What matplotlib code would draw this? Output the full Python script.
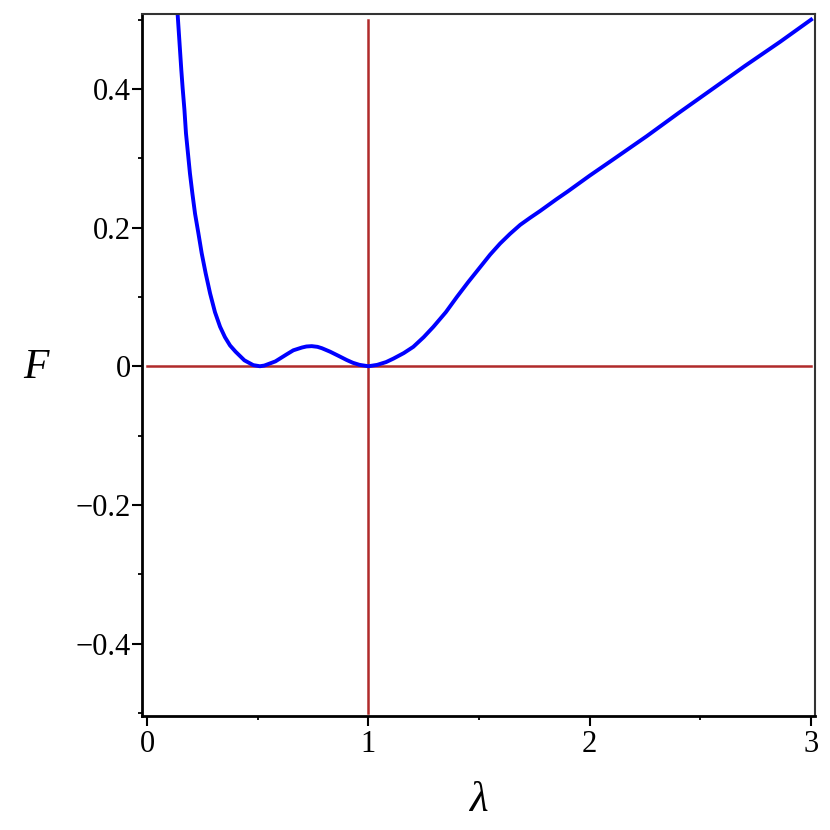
import matplotlib
matplotlib.use("Agg")
import matplotlib.pyplot as plt
from matplotlib.ticker import MultipleLocator, FixedLocator

# curve
lam = [0.137, 0.143, 0.149, 0.155, 0.161, 0.169, 0.176, 0.185, 0.194, 0.205,
       0.217, 0.232, 0.247, 0.265, 0.285, 0.307, 0.330, 0.352, 0.375, 0.400,
       0.440, 0.480, 0.510, 0.530, 0.555, 0.580, 0.600, 0.630, 0.661, 0.700,
       0.720, 0.744, 0.770, 0.790, 0.827, 0.865, 0.902, 0.930, 0.960, 1.000,
       1.040, 1.080, 1.113, 1.160, 1.203, 1.250, 1.294, 1.350, 1.400, 1.450,
       1.505, 1.550, 1.595, 1.640, 1.686, 1.730, 1.776, 1.850, 1.900, 2.000,
       2.100, 2.258, 2.400, 2.559, 2.700, 2.860, 3.000]
F = [0.514, 0.485, 0.456, 0.427, 0.401, 0.370, 0.336, 0.307, 0.278, 0.249,
     0.220, 0.192, 0.163, 0.134, 0.105, 0.078, 0.057, 0.042, 0.030, 0.021,
     0.0085, 0.0016, 0.000, 0.001, 0.004, 0.007, 0.011, 0.017, 0.023, 0.027,
     0.0285, 0.029, 0.028, 0.026, 0.021, 0.015, 0.009, 0.005, 0.002, 0.000,
     0.002, 0.006, 0.011, 0.019, 0.028, 0.042, 0.057, 0.078, 0.100, 0.121,
     0.143, 0.161, 0.177, 0.191, 0.204, 0.214, 0.224, 0.241, 0.252, 0.275,
     0.297, 0.332, 0.365, 0.401, 0.433, 0.468, 0.500]

# reference lines
hline_x = [0, 3]
vline_y = [-0.5, 0.5]

xticks = [0, 1, 2, 3]
yticks = [-0.4, -0.2, 0, 0.2, 0.4]
ytick_labels = ["\u22120.4", "\u22120.2", "0", "0.2", "0.4"]

plt.rcParams['font.family'] = ['Liberation Serif', 'DejaVu Serif']

fig = plt.figure(figsize=(8.3, 8.3), dpi=100)
ax = fig.add_axes([0.171, 0.137, 0.811, 0.846])

red = '#b02a2a'
ax.plot(hline_x, [0, 0], color=red, lw=1.8, zorder=1)
ax.plot([1, 1], vline_y, color=red, lw=1.8, zorder=1)
ax.plot(lam, F, color='#0000ff', lw=2.8, zorder=2, solid_joinstyle='round')

ax.set_xlim(-0.023, 3.018)
ax.set_ylim(-0.505, 0.508)

ax.xaxis.set_major_locator(FixedLocator(xticks))
ax.xaxis.set_minor_locator(MultipleLocator(0.5))
ax.yaxis.set_major_locator(FixedLocator(yticks))
ax.yaxis.set_minor_locator(MultipleLocator(0.1))
ax.set_yticklabels(ytick_labels)

ax.tick_params(which='major', direction='out', length=7, width=1.5, labelsize=22,
               colors='black', pad=1)
ax.tick_params(axis='x', which='major', pad=3)
ax.tick_params(which='minor', direction='out', length=3, width=1.3)

for side in ['left', 'bottom']:
    ax.spines[side].set_linewidth(2)
for side in ['top', 'right']:
    ax.spines[side].set_linewidth(1.5)
    ax.spines[side].set_color('#333333')

ax.set_xlabel('\u03bb', fontsize=31, style='italic', labelpad=16)
ax.set_ylabel('F', fontsize=30, style='italic', rotation=0, va='center')
ax.yaxis.set_label_coords(-0.158, 0.496)

fig.savefig('out.png', dpi=100)
